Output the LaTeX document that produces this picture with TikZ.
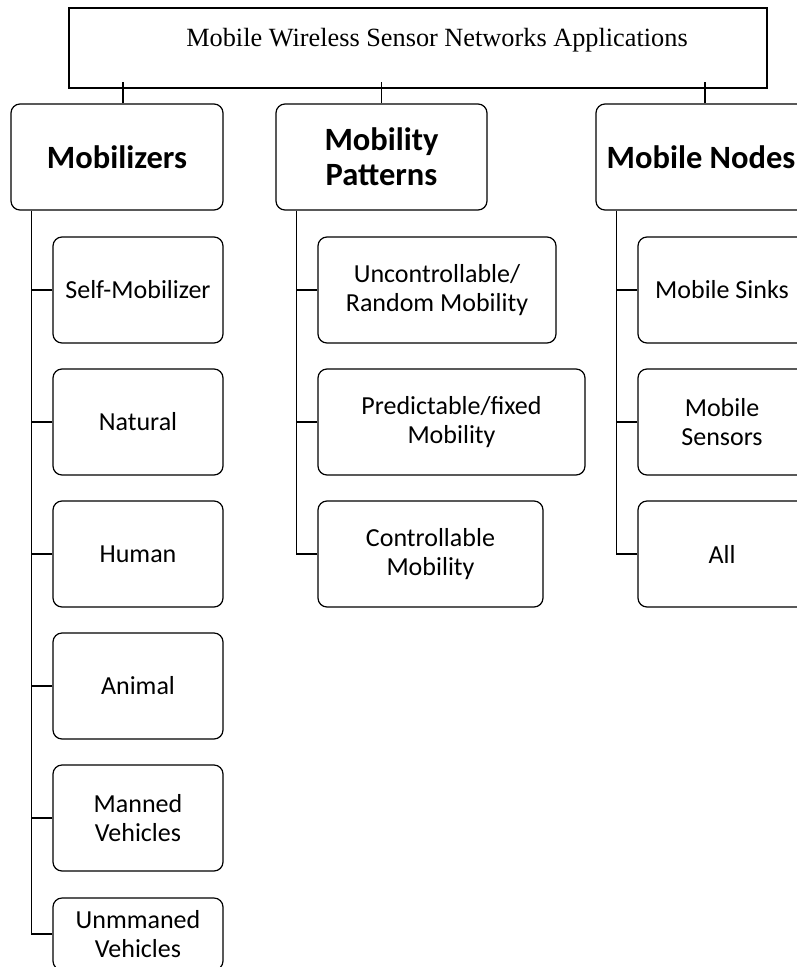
\documentclass[tikz,border=0pt]{standalone}
\usepackage{fontspec}
\setmainfont{Carlito}
\newfontfamily\timesfont{Liberation Serif}
\usetikzlibrary{positioning}

\tikzset{
  titlebox/.style={draw, line width=1.8pt, minimum width=698pt, minimum height=80pt, inner sep=0pt},
  headbox/.style={draw, line width=1.2pt, rounded corners=9pt, minimum height=106pt, align=center, inner sep=0pt, font=\fontsize{32.5}{35}\selectfont\bfseries},
  itembox/.style={draw, line width=1.2pt, rounded corners=9pt, minimum height=106pt, align=center, inner sep=0pt, font=\fontsize{26}{29}\selectfont},
  spine/.style={line width=1.6pt},
  twig/.style={line width=1.1pt},
}

\begin{document}
\begin{tikzpicture}[x=1pt,y=-1pt]
\useasboundingbox (0,0) rectangle (797,967);
\clip (0,0) rectangle (797,967);

% top box
\node[titlebox] (title) at (418,48) {};
\node (titletext) at (437,40) {\timesfont\fontsize{26.3}{30}\selectfont Mobile Wireless Sensor Networks Applications};

% three groups
\node[headbox, minimum width=212pt] (mob) at (117,157) {Mobilizers};
\node[headbox, minimum width=211pt] (pat) at (381.5,157) {Mobility\\Patterns};
\node[headbox, minimum width=210pt] (nod) at (701,157) {Mobile Nodes};

% mobilizers
\node[itembox, minimum width=170pt] (mob1) at (138,290) {Self-Mobilizer};
\node[itembox, minimum width=170pt] (mob2) at (138,422) {Natural};
\node[itembox, minimum width=170pt] (mob3) at (138,554) {Human};
\node[itembox, minimum width=170pt] (mob4) at (138,686) {Animal};
\node[itembox, minimum width=170pt] (mob5) at (138,818) {Manned\\Vehicles};
\node[itembox, minimum width=170pt, minimum height=72pt] (mob6) at (138,934) {Unmmaned\\Vehicles};

% patterns
\node[itembox, minimum width=238pt] (pat1) at (437,290) {Uncontrollable/\\Random Mobility};
\node[itembox, minimum width=267pt] (pat2) at (451.5,422) {Predictable/fixed\\Mobility};
\node[itembox, minimum width=225pt] (pat3) at (430.5,554) {Controllable\\Mobility};

% mobile nodes
\node[itembox, minimum width=168pt] (nod1) at (722,290) {Mobile Sinks};
\node[itembox, minimum width=168pt] (nod2) at (722,422) {Mobile\\Sensors};
\node[itembox, minimum width=168pt] (nod3) at (722,554) {All};

% ticks under the top box
\foreach \n/\dx in {mob/6,pat/0,nod/4}{
  \draw[twig] ([xshift=\dx pt]\n.north) -- ([xshift=\dx pt,yshift=7pt]\n.north |- title.south);}

% branches
\foreach \n/\last in {mob/6,pat/3,nod/3}{
  \coordinate (\n-sp) at ([xshift=21pt]\n.south west);
  \draw[spine] (\n-sp) |- (\n\last.west);
  \foreach \k in {1,...,\last}{
    \draw[twig] (\n\k.west) -- (\n\k.west -| \n-sp);}
}
\end{tikzpicture}
\end{document}
